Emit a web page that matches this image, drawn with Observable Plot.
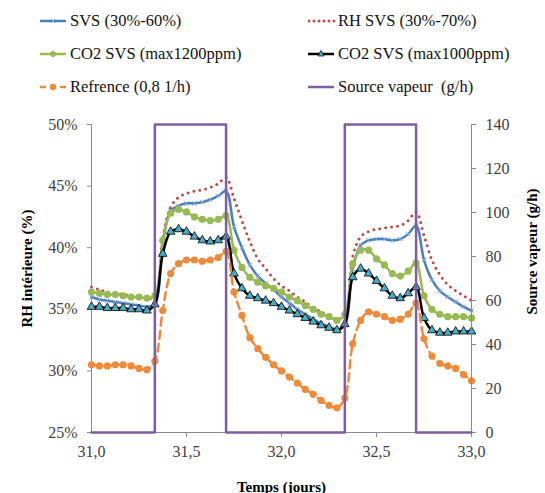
<!DOCTYPE html>
<html><head><meta charset="utf-8">
<script src="https://cdn.jsdelivr.net/npm/d3@7"></script>
<script src="https://cdn.jsdelivr.net/npm/@observablehq/plot@0.6"></script>
<style>
body{margin:0;background:#fff;font-family:"Liberation Serif","Times New Roman",serif;}
#wrap{position:relative;width:545px;height:493px;overflow:hidden;}
#legend{position:absolute;left:0;top:0;width:545px;height:105px;}
.item{position:absolute;display:flex;align-items:center;font-size:16.5px;color:#111;white-space:pre;line-height:20px;}
.item svg{margin-right:2px;}
#chart{position:absolute;left:0;top:105px;width:545px;height:388px;}
#chart svg{position:absolute;left:0;top:0;}
</style></head>
<body><div id="wrap"><div id="legend"></div><div id="chart"></div></div>
<script>
// hourly samples from day 31.0 to 33.0
const hours = d3.range(49);
const dayTicks = [31, 31.5, 32, 32.5, 33];
const rhTicks = [0.25, 0.30, 0.35, 0.40, 0.45, 0.50];
const vapTicks = [0, 20, 40, 60, 80, 100, 120, 140];

const seriesNames = ["SVS (30%-60%)", "RH SVS (30%-70%)", "CO2 SVS (max1200ppm)", "CO2 SVS (max1000ppm)", "Refrence (0,8 1/h)", "Source vapeur  (g/h)"];

// RH intérieure (%) values, hourly
const svs = [36.0,35.8,35.7,35.6,35.5,35.4,35.3,35.2,35.4,40.3,43.0,43.4,43.6,43.6,43.7,43.9,44.2,44.6,41.7,40.0,38.6,37.7,37.1,36.6,36.0,35.5,35.0,34.6,34.2,33.85,33.6,33.35,33.7,38.3,40.2,40.6,40.7,40.7,40.6,40.7,41.1,41.8,39.0,37.4,36.5,36.0,35.6,35.2,34.9];
const rhSvs = [36.8,36.6,36.4,36.3,36.2,36.1,36.0,35.9,36.0,40.8,43.3,44.1,44.4,44.6,44.7,44.9,45.2,45.7,44.0,42.2,40.5,39.1,38.3,37.5,36.9,36.5,36.0,35.6,35.1,34.8,34.4,34.2,34.5,39.3,40.9,41.3,41.5,41.6,41.7,41.8,42.2,42.9,41.0,39.0,37.8,37.0,36.5,36.1,35.7];
const co2_1200 = [36.4,36.3,36.2,36.2,36.1,36.0,36.0,35.9,36.1,40.6,42.8,43.1,42.9,42.5,42.3,42.2,42.3,42.6,39.8,38.4,37.6,37.2,36.9,36.7,36.4,36.0,35.7,35.3,35.0,34.6,34.4,34.1,34.6,38.7,39.8,39.8,39.1,38.6,37.9,37.7,38.1,38.75,36.1,35.0,34.6,34.4,34.4,34.4,34.3];
const co2_1000 = [35.2,35.2,35.1,35.1,35.1,35.0,35.0,34.9,35.4,39.5,41.3,41.5,41.3,40.9,40.6,40.5,40.6,40.9,37.9,36.7,36.1,35.9,35.7,35.5,35.2,34.9,34.6,34.3,34.0,33.7,33.5,33.3,33.8,37.6,38.3,37.9,37.3,36.7,36.1,35.9,36.3,36.8,34.3,33.3,33.1,33.1,33.2,33.2,33.2];
const refrence = [30.5,30.4,30.4,30.5,30.5,30.4,30.2,30.1,30.8,34.9,37.9,38.7,39.0,39.0,38.9,39.0,39.2,39.7,36.4,34.5,32.7,31.8,31.1,30.5,30.0,29.5,29.0,28.5,28.1,27.6,27.2,27.0,27.8,32.2,34.1,34.8,34.6,34.4,34.1,34.2,34.6,35.5,32.6,31.2,30.6,30.4,30.2,29.7,29.2];
// Source vapeur (g/h), hourly (step)
const vapeur = [0,0,0,0,0,0,0,0,140,140,140,140,140,140,140,140,140,0,0,0,0,0,0,0,0,0,0,0,0,0,0,0,140,140,140,140,140,140,140,140,140,0,0,0,0,0,0,0,0];

const colors = {svs:"#4A7EBB", rh:"#BE4B48", g:"#98B954", k:"#000000", o:"#EE8A3C", p:"#7E5EA0", tri:"#4BACC6", x:"#7FA6D8"};

const toRows = (vals, scale) => vals.map((v, i) => ({t: 31 + hours[i] / 24, v: v / scale}));
const dSvs = toRows(svs, 100), dRh = toRows(rhSvs, 100), dG = toRows(co2_1200, 100), dK = toRows(co2_1000, 100), dO = toRows(refrence, 100);
const dV = toRows(vapeur, 1);

const W = 545, H = 388;
const margins = {marginTop: 19, marginRight: 74, marginBottom: 61, marginLeft: 91};
const style = {fontFamily: "Liberation Serif, Times New Roman, serif", fontSize: "16px", color: "#404040", background: "transparent", overflow: "visible"};
const axisGray = "#8a8a8a";
const curve = "catmull-rom";

const rhPlot = Plot.plot({
  width: W, height: H, ...margins, style,
  x: {domain: [31, 33]},
  y: {domain: [0.25, 0.5]},
  marks: [
    Plot.ruleX([31], {stroke: axisGray}),
    Plot.ruleY([0.25], {stroke: axisGray, x1: 30.985, x2: 33}),
    Plot.axisY({ticks: rhTicks, tickFormat: d3.format(".0%"), tickSize: 4, tickPadding: 10, stroke: axisGray, fill: "#404040", label: null}),
    Plot.axisX({ticks: dayTicks.slice(1), tickFormat: null, text: null, tickSize: 5, stroke: axisGray, label: null}),
    Plot.axisX({ticks: dayTicks, tickFormat: d => d.toFixed(1).replace(".", ","), tickSize: 0, tickPadding: 13, fill: "#404040", label: null}),
    Plot.line(dSvs, {x: "t", y: "v", stroke: colors.svs, strokeWidth: 2.5, curve}),
    Plot.dot(dSvs, {x: "t", y: "v", symbol: "times", r: 2.2, stroke: colors.x, strokeWidth: 1}),
    Plot.line(dRh, {x: "t", y: "v", stroke: colors.rh, strokeWidth: 3, strokeDasharray: "0,6", strokeLinecap: "round", curve}),
    Plot.line(dG, {x: "t", y: "v", stroke: colors.g, strokeWidth: 2.5, curve}),
    Plot.dot(dG, {x: "t", y: "v", r: 3.6, fill: colors.g}),
    Plot.line(dK, {x: "t", y: "v", stroke: colors.k, strokeWidth: 2.5, curve}),
    Plot.dot(dK, {x: "t", y: "v", symbol: "triangle", r: 3.2, fill: colors.tri, stroke: "#000", strokeWidth: 0.8}),
    Plot.line(dO, {x: "t", y: "v", stroke: colors.o, strokeWidth: 2.5, strokeDasharray: "8,5", curve}),
    Plot.dot(dO, {x: "t", y: "v", r: 3.6, fill: colors.o}),
    Plot.text(["RH intérieure (%)"], {frameAnchor: "left", textAnchor: "middle", rotate: -90, dx: -64, dy: -10, fontWeight: "bold", fontSize: 15, fill: "#000"}),
    Plot.text(["Temps (jours)"], {frameAnchor: "bottom", lineAnchor: "bottom", dy: 59, fontWeight: "bold", fontSize: 15, fill: "#000"})
  ]
});

const vapPlot = Plot.plot({
  width: W, height: H, ...margins, style,
  x: {domain: [31, 33], axis: null},
  y: {domain: [0, 140]},
  marks: [
    Plot.ruleX([33], {stroke: axisGray}),
    Plot.axisY({anchor: "right", ticks: vapTicks, tickSize: 4, tickPadding: 10, stroke: axisGray, fill: "#404040", label: null}),
    Plot.line(dV, {x: "t", y: "v", curve: "step-after", stroke: colors.p, strokeWidth: 2.5}),
    Plot.text(["Source vapeur (g/h)"], {frameAnchor: "right", textAnchor: "middle", rotate: -90, dx: 61, dy: -27, fontWeight: "bold", fontSize: 15, fill: "#000"})
  ]
});

const chart = document.getElementById("chart");
chart.appendChild(rhPlot);
chart.appendChild(vapPlot);

// legend
const swatches = [
  `<line x1="0" y1="5" x2="26" y2="5" stroke="${colors.svs}" stroke-width="2.5"/><path d="M11,3L15,7M15,3L11,7" stroke="${colors.x}" stroke-width="1"/>`,
  `<line x1="1" y1="5" x2="27" y2="5" stroke="${colors.rh}" stroke-width="3" stroke-dasharray="0,5" stroke-linecap="round"/>`,
  `<line x1="0" y1="5" x2="26" y2="5" stroke="${colors.g}" stroke-width="2.5"/><circle cx="13" cy="5" r="3" fill="${colors.g}"/>`,
  `<line x1="0" y1="5" x2="26" y2="5" stroke="#000" stroke-width="2.5"/><path d="M13,1.5L16,7H10Z" fill="${colors.tri}" stroke="#000" stroke-width="0.7"/>`,
  `<line x1="0" y1="5" x2="26" y2="5" stroke="${colors.o}" stroke-width="2.5" stroke-dasharray="6,4"/><circle cx="13" cy="5" r="3.2" fill="${colors.o}"/>`,
  `<line x1="0" y1="5" x2="26" y2="5" stroke="${colors.p}" stroke-width="2.5"/>`
];
const pos = [[40, 21], [308, 21], [40, 54], [308, 54], [40, 87], [308, 87]];
const legend = document.getElementById("legend");
seriesNames.forEach((name, i) => {
  const div = document.createElement("div");
  div.className = "item";
  div.style.left = pos[i][0] + "px";
  div.style.top = (pos[i][1] - 10) + "px";
  div.innerHTML = `<svg width="28" height="10">${swatches[i]}</svg><span></span>`;
  div.querySelector("span").textContent = name;
  legend.appendChild(div);
});
</script>
</body></html>
